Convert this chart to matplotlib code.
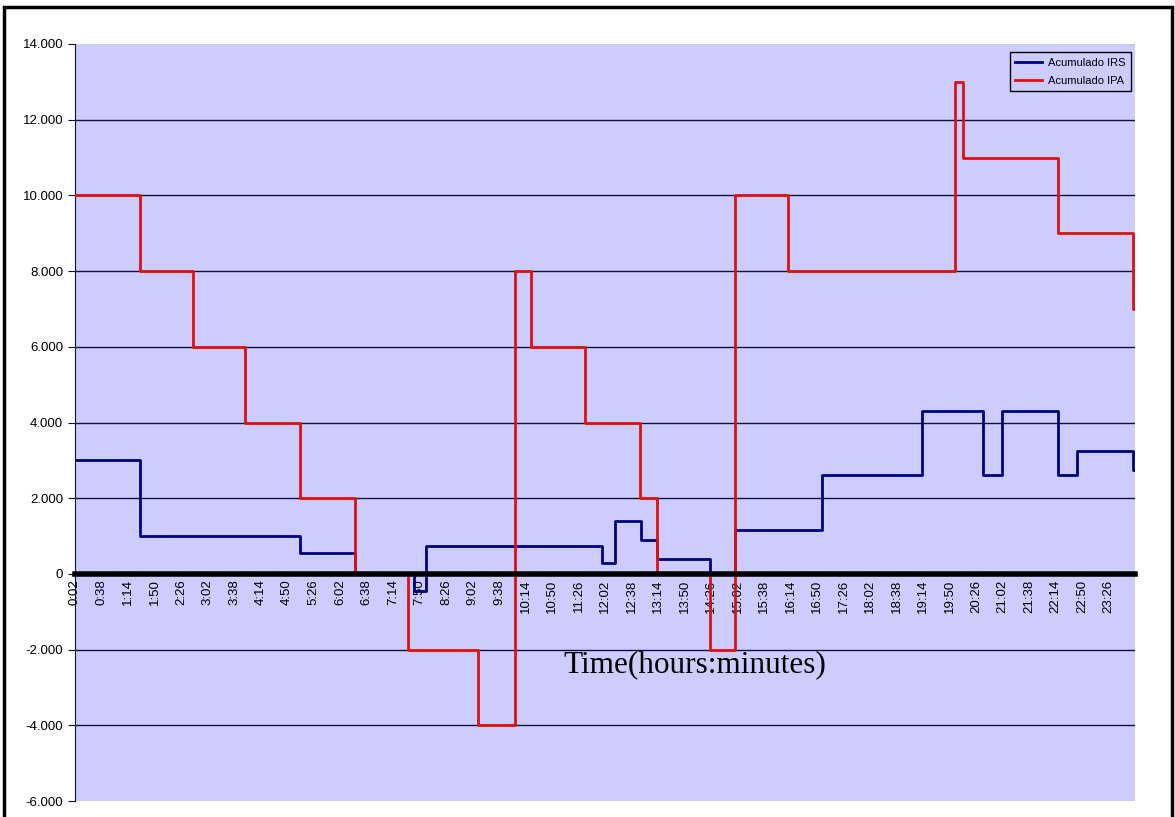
import matplotlib.pyplot as plt
from matplotlib.patches import Rectangle
from matplotlib.ticker import FuncFormatter

plt.rcParams['font.family'] = ['Liberation Sans', 'DejaVu Sans']

# minutos desde 0:00 donde cambia cada serie (escalón "post")
irs_t = [2, 90, 308, 383, 463, 479, 718, 735, 771, 792, 865, 899, 1017,
         1153, 1235, 1261, 1337, 1363, 1439, 1442]
irs_v = [3000, 1000, 550, 0, -450, 750, 300, 1400, 900, 400, 0, 1150, 2600,
         4300, 2600, 4300, 2600, 3250, 2750, 2750]

ipa_t = [2, 90, 162, 233, 308, 383, 455, 550, 600, 622, 695, 770, 792,
         865, 899, 971, 1198, 1208, 1337, 1439, 1442]
ipa_v = [10000, 8000, 6000, 4000, 2000, 0, -2000, -4000, 8000, 6000, 4000,
         2000, 0, -2000, 10000, 8000, 13000, 11000, 9000, 7000, 7000]

tick_min = [2 + 36 * k for k in range(40)]
tick_lbl = [f"{m // 60}:{m % 60:02d}" for m in tick_min]
y_ticks = list(range(-6000, 14001, 2000))

fig = plt.figure(figsize=(11.75, 8.17), dpi=100)
fig.patches.append(Rectangle((4 / 1175, -0.01), 1168 / 1175, 1 - 7 / 817 + 0.01,
                             transform=fig.transFigure, fill=False,
                             edgecolor='black', linewidth=2.5))

ax = fig.add_axes([75 / 1175, 1 - 801 / 817, 1060 / 1175, 757 / 817])
ax.set_facecolor('#CCCCFF')
ax.set_xlim(2, 1442)
ax.set_ylim(-6000, 14000)

for y in y_ticks:
    if -6000 < y < 14000 and y != 0:
        ax.axhline(y, color='#101040', linewidth=1.0, zorder=1)

ax.step(irs_t, irs_v, where='post', color='#000080', linewidth=2.0,
        label='Acumulado IRS', zorder=3)
ax.step(ipa_t, ipa_v, where='post', color='#E01010', linewidth=2.0,
        label='Acumulado IPA', zorder=3)

for s in ['top', 'right']:
    ax.spines[s].set_visible(False)
ax.spines['left'].set_color('#101030')
ax.spines['bottom'].set_position(('data', 0))
ax.spines['bottom'].set_linewidth(4)
ax.spines['bottom'].set_zorder(4)

ax.set_yticks(y_ticks)
ax.yaxis.set_major_formatter(FuncFormatter(
    lambda v, p: "0" if v == 0 else f"{int(v):,}".replace(",", ".")))
ax.tick_params(axis='y', labelsize=9.5, length=5, color='#101030')

ax.set_xticks(tick_min)
ax.set_xticklabels(tick_lbl, rotation=90, fontsize=9.5)
ax.tick_params(axis='x', length=0, pad=4)

ax.text(0.585, 0.18, 'Time(hours:minutes)', transform=ax.transAxes,
        ha='center', va='center', fontsize=22.5, family='Liberation Serif')

leg = ax.legend(loc='upper right', bbox_to_anchor=(0.996, 0.989), fontsize=8,
                frameon=True, fancybox=False, borderpad=0.5, handlelength=2.4,
                handletextpad=0.5, labelspacing=0.7, borderaxespad=0)
leg.get_frame().set_edgecolor('black')
leg.get_frame().set_facecolor('#CCCCFF')
leg.get_frame().set_alpha(1)

fig.savefig('out.png', dpi=100)
